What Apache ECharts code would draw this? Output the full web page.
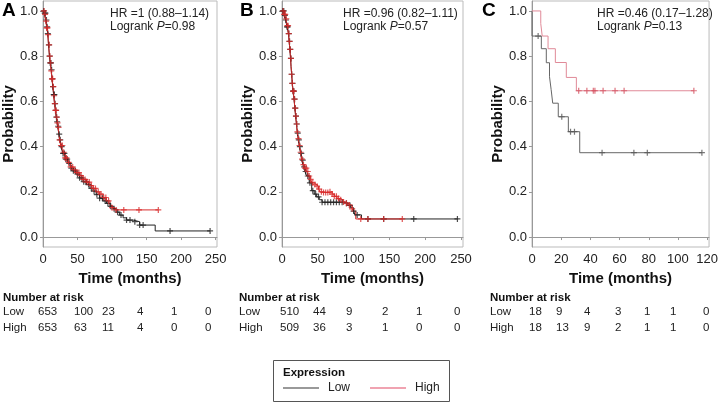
<!DOCTYPE html>
<html>
<head>
<meta charset="utf-8">
<script src="https://cdn.jsdelivr.net/npm/echarts@6/dist/echarts.min.js"></script>
<style>
  html, body { margin: 0; padding: 0; background: #fff; }
  #chart { width: 721px; height: 403px; }
</style>
</head>
<body>
<div id="chart"></div>
<script>
// KM curves: [time in months, survival probability]
var lowA = [[0,1],[2,0.99],[4,0.96],[5.5,0.93],[7,0.9],[8,0.85],[9.4,0.8],[10.5,0.77],[12,0.74],[13,0.7],[14.2,0.665],[15.5,0.63],[16.7,0.59],[18,0.56],[19.2,0.53],[20.5,0.51],[21.5,0.49],[23,0.455],[24,0.43],[26,0.4],[28.8,0.37],[32,0.345],[36,0.326],[40,0.305],[43.3,0.293],[48,0.278],[53,0.262],[58,0.245],[63,0.232],[68,0.215],[72.4,0.203],[77,0.188],[82,0.172],[87,0.16],[92,0.149],[97,0.136],[101.5,0.125],[106,0.11],[111,0.097],[116,0.085],[121,0.075],[130.5,0.068],[140,0.053],[162.5,0.027],[242,0.027]];
var highA = [[0,1],[2,0.985],[4,0.955],[5.5,0.925],[7,0.895],[8,0.85],[9.4,0.8],[10.5,0.77],[12,0.735],[13,0.7],[14.2,0.665],[15.5,0.625],[16.7,0.59],[18,0.56],[19.2,0.53],[20.5,0.505],[21.5,0.485],[23,0.455],[24,0.43],[26,0.405],[28.8,0.375],[32,0.35],[36,0.33],[40,0.31],[43.3,0.297],[48,0.285],[53,0.272],[58,0.255],[63,0.243],[68,0.228],[72.4,0.215],[77,0.2],[82,0.19],[87,0.175],[92,0.16],[97,0.14],[100,0.13],[104,0.12],[167,0.12]];
var lowB = [[0,1],[3,0.98],[5,0.96],[7,0.93],[9,0.9],[10,0.865],[11,0.83],[12,0.79],[12.6,0.755],[13.5,0.72],[14.4,0.68],[15.5,0.645],[16.8,0.61],[18,0.57],[19,0.535],[20.2,0.5],[21.4,0.46],[22.8,0.43],[24.2,0.4],[26,0.37],[27.5,0.34],[30,0.31],[32,0.29],[34.5,0.27],[38,0.24],[41.5,0.205],[45,0.19],[48.4,0.178],[52,0.165],[56,0.154],[88,0.15],[92,0.14],[96,0.13],[100,0.115],[102,0.098],[111,0.08],[246,0.08]];
var highB = [[0,1],[3,0.985],[5,0.965],[7,0.935],[9,0.9],[10,0.865],[11,0.83],[12,0.79],[12.6,0.755],[13.5,0.72],[14.4,0.68],[15.5,0.645],[16.8,0.61],[18,0.57],[19,0.535],[20.2,0.5],[21.4,0.465],[22.8,0.435],[24.2,0.405],[26,0.375],[27.5,0.345],[30,0.32],[32,0.305],[34.5,0.29],[37,0.27],[40,0.255],[42,0.24],[45,0.232],[48,0.225],[51,0.212],[53,0.2],[58,0.197],[65,0.2],[70,0.19],[73,0.18],[77,0.17],[81,0.165],[85,0.155],[88,0.15],[92,0.142],[95,0.137],[98,0.125],[100,0.115],[103,0.08],[168,0.08]];
var lowC = [[0,1],[0,0.889],[6.4,0.833],[9.8,0.771],[12,0.709],[13.1,0.653],[14.2,0.592],[18,0.532],[24.9,0.466],[32.7,0.373],[116.4,0.373]];
var highC = [[0,1],[6,0.944],[7,0.889],[11,0.833],[16,0.772],[23.5,0.706],[30.4,0.647],[110.9,0.647]];

// censoring times (months)
var censorLowA = [1,2.5,3.5,5,6,7,8.5,9.5,10.5,11.5,12.5,13.5,14.5,15.5,16.5,17.5,18.5,19.5,20.5,22,23.5,25,27,29,31,33,35,38,41,44,47,50,53,56,59,62,66,70,74,78,82,86,90,94,98,103,108,113,121,126,133,140,145,184,242];
var censorHighA = [1.5,3,4.5,5.5,6.5,7.5,9,10,11,12,13,14,15,16,17,18,19,20,21,22.5,24,26,28,30,32,34,37,40,43,46,49,52,55,58,61,64,67,70,73,76,80,84,88,91,95,100,106,117,139,167];
var censorLowB = [1,2.5,4,5.5,7,8,9.5,10.5,11.5,12.5,13.5,14.5,15.5,16.5,17.5,18.5,19.5,20.5,22,23.5,25,27,29,31,33,36,39,43,47,51,56,60,64,68,72,76,80,84,90,95,100,105,120,142,184,245];
var censorHighB = [1.5,3,4.5,6,7.5,8.5,9.5,10.5,11.5,12.5,13.5,14.5,15.5,16.5,17.5,18.5,19.5,20.5,21.5,23,24.5,26,28,30,32,34,36,38,40,43,46,49,52,55,58,61,64,67,70,73,76,79,82,86,90,94,98,110,120,142,168];
var censorLowC = [4.2,20.4,26.4,29.1,48,69.8,79,116.4];
var censorHighC = [32,37.6,42,43.1,48.7,56.9,63.1,110.9];

// number at risk
var riskLowA = [653, 100, 23, 4, 1, 0];
var riskHighA = [653, 63, 11, 4, 0, 0];
var riskLowB = [510, 44, 9, 2, 1, 0];
var riskHighB = [509, 36, 3, 1, 0, 0];
var riskLowC = [18, 9, 4, 3, 1, 1, 0];
var riskHighC = [18, 13, 9, 2, 1, 1, 0];

var hrLabels = ['HR =1 (0.88\u20131.14)', 'HR =0.96 (0.82\u20131.11)', 'HR =0.46 (0.17\u20131.28)'];
var pLabels = ['0.98', '0.57', '0.13'];
var panelLetters = ['A', 'B', 'C'];
var yTicks = [0, 0.2, 0.4, 0.6, 0.8, 1.0];
var xTicksAB = [0, 50, 100, 150, 200, 250];
var xTicksC = [0, 20, 40, 60, 80, 100, 120];

var FONT = 'Liberation Sans, Arial, Helvetica, sans-serif';
var PLUS = 'path://M4,0H6V4H10V6H6V10H4V6H0V4H4Z';

// layout
var grids = [
  {left: 43, top: 1, width: 174, height: 246},
  {left: 282, top: 1, width: 181, height: 246},
  {left: 532, top: 1, width: 183, height: 246}
];
var xMax = [252, 252.8, 121.3];
var yNameGap = [22, 27, 27];
var hrX = [110, 343, 597];
var letterX = [2, 240, 482];
var tableX = [3, 239, 490];
var colA = [38, 74, 102, 137, 171, 205];
var colB = [280, 313, 346, 382, 416, 454];
var colC = [529, 556, 584, 615, 644, 670, 703];

function survAt(curve, t) {
  var p = curve[0][1];
  for (var i = 0; i < curve.length; i++) {
    if (curve[i][0] <= t) p = curve[i][1];
  }
  return p;
}

function kmLine(name, idx, data, color) {
  return {
    name: name, type: 'line', xAxisIndex: idx, yAxisIndex: idx,
    step: 'end', data: data, showSymbol: false, silent: true,
    lineStyle: {color: color, width: 1}, itemStyle: {color: color}, z: 2
  };
}

function kmMarks(name, idx, times, curve, color, size) {
  return {
    name: name, type: 'scatter', xAxisIndex: idx, yAxisIndex: idx,
    data: times.map(function (t) { return [t, survAt(curve, t)]; }),
    symbol: PLUS, symbolSize: size, silent: true,
    itemStyle: {color: color}, z: 3
  };
}

var xAxes = [], yAxes = [];
for (var i = 0; i < 3; i++) {
  var ticks = i < 2 ? xTicksAB : xTicksC;
  xAxes.push({
    gridIndex: i, type: 'value', min: 0, max: xMax[i],
    name: 'Time (months)', nameLocation: 'middle', nameGap: 23,
    nameTextStyle: {fontFamily: FONT, fontWeight: 'bold', fontSize: 15, color: '#111'},
    axisLine: {show: true, lineStyle: {color: '#999'}},
    axisTick: {show: true, length: 3, lineStyle: {color: '#999'}, customValues: ticks},
    axisLabel: {fontFamily: FONT, fontSize: 13, color: '#222', margin: 6, customValues: ticks},
    splitLine: {show: false}
  });
  yAxes.push({
    gridIndex: i, type: 'value', min: -0.044, max: 1.044,
    name: 'Probability', nameLocation: 'middle', nameGap: yNameGap[i],
    nameTextStyle: {fontFamily: FONT, fontWeight: 'bold', fontSize: 15, color: '#111'},
    axisLine: {show: true, lineStyle: {color: '#999'}},
    axisTick: {show: true, length: 3, lineStyle: {color: '#999'}, customValues: yTicks},
    axisLabel: {fontFamily: FONT, fontSize: 13, color: '#222', margin: 5, customValues: yTicks,
      formatter: function (v) { return v.toFixed(1); }},
    splitLine: {show: false}
  });
}

var graphics = [];
for (var k = 0; k < 3; k++) {
  graphics.push({type: 'text', x: letterX[k], y: 11,
    style: {text: panelLetters[k], font: 'bold 19px ' + FONT, fill: '#000', verticalAlign: 'middle'}});
  graphics.push({type: 'text', x: hrX[k], y: 14,
    style: {text: hrLabels[k], font: '12px ' + FONT, fill: '#222', verticalAlign: 'middle'}});
  graphics.push({type: 'text', x: hrX[k], y: 27,
    style: {text: 'Logrank {i|P}=' + pLabels[k], font: '12px ' + FONT, fill: '#222', verticalAlign: 'middle',
      rich: {i: {fontStyle: 'italic', font: 'italic 12px ' + FONT, fill: '#222'}}}});
  graphics.push({type: 'text', x: tableX[k], y: 298,
    style: {text: 'Number at risk', font: 'bold 11.5px ' + FONT, fill: '#111', verticalAlign: 'middle'}});
  graphics.push({type: 'text', x: tableX[k], y: 312,
    style: {text: 'Low', font: '11.5px ' + FONT, fill: '#222', verticalAlign: 'middle'}});
  graphics.push({type: 'text', x: tableX[k], y: 328,
    style: {text: 'High', font: '11.5px ' + FONT, fill: '#222', verticalAlign: 'middle'}});
}

function riskRow(values, cols, y) {
  values.forEach(function (v, j) {
    graphics.push({type: 'text', x: cols[j], y: y,
      style: {text: String(v), font: '11.5px ' + FONT, fill: '#222', verticalAlign: 'middle'}});
  });
}
riskRow(riskLowA, colA, 312);
riskRow(riskHighA, colA, 328);
riskRow(riskLowB, colB, 312);
riskRow(riskHighB, colB, 328);
riskRow(riskLowC, colC, 312);
riskRow(riskHighC, colC, 328);

// legend frame and title
graphics.push({type: 'rect', shape: {x: 273.5, y: 360.5, width: 176, height: 41},
  style: {fill: 'transparent', stroke: '#555', lineWidth: 1}});
graphics.push({type: 'text', x: 283, y: 373,
  style: {text: 'Expression', font: 'bold 11.5px ' + FONT, fill: '#111', verticalAlign: 'middle'}});

var chart = echarts.init(document.getElementById('chart'));
chart.setOption({
  animation: false,
  backgroundColor: '#fff',
  textStyle: {fontFamily: FONT},
  grid: grids.map(function (g) {
    return {left: g.left, top: g.top, width: g.width, height: g.height,
      show: true, borderColor: '#bbb', borderWidth: 1, containLabel: false};
  }),
  xAxis: xAxes,
  yAxis: yAxes,
  legend: {
    left: 283, top: 382, padding: 0, icon: 'rect', itemWidth: 36, itemHeight: 2, itemGap: 20,
    selectedMode: false,
    textStyle: {fontFamily: FONT, fontSize: 12, color: '#222', padding: [0, 0, 0, 4]},
    data: [
      {name: 'Low', itemStyle: {color: '#999'}, lineStyle: {color: '#999'}},
      {name: 'High', itemStyle: {color: '#f0a3b1'}, lineStyle: {color: '#f0a3b1'}}
    ]
  },
  graphic: graphics,
  series: [
    kmLine('Low', 0, lowA, '#222'),
    kmMarks('Low', 0, censorLowA, lowA, '#222', 6),
    kmLine('High', 0, highA, '#d82a2a'),
    kmMarks('High', 0, censorHighA, highA, '#d82a2a', 6),
    kmLine('Low', 1, lowB, '#222'),
    kmMarks('Low', 1, censorLowB, lowB, '#222', 6),
    kmLine('High', 1, highB, '#d82a2a'),
    kmMarks('High', 1, censorHighB, highB, '#d82a2a', 6),
    kmLine('Low', 2, lowC, '#666'),
    kmMarks('Low', 2, censorLowC, lowC, '#555', 6),
    kmLine('High', 2, highC, '#e08a98'),
    kmMarks('High', 2, censorHighC, highC, '#d4505f', 6)
  ]
});
</script>
</body>
</html>
